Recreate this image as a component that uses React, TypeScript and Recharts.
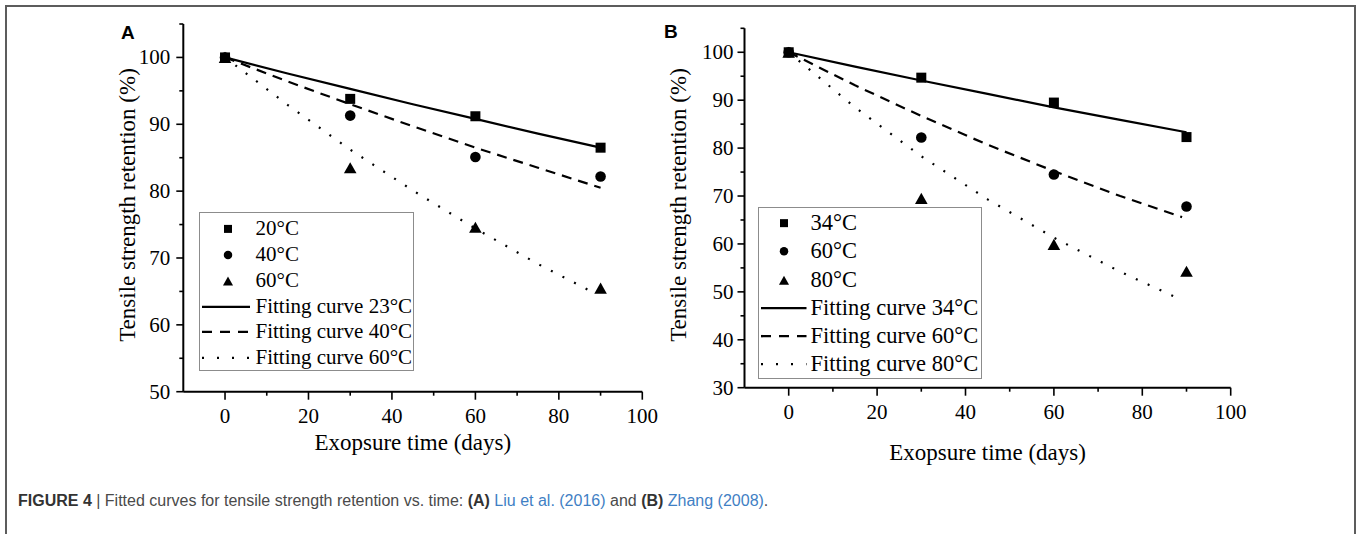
import React from 'react';
import { ComposedChart, Scatter, Line, XAxis, YAxis, Legend, Label } from 'recharts';

const SERIF = '"Liberation Serif", "Times New Roman", serif';
const SANS = '"Liberation Sans", Arial, sans-serif';

// sampling days of the measured points and of the fitted curves
const days = [0, 30, 60, 90];
const fitDays = [0, 15, 30, 45, 60, 75, 90];
const xTicks = [0, 10, 20, 30, 40, 50, 60, 70, 80, 90, 100];

// (A) Liu et al. (2016)
const liuNames = ['20°C', '40°C', '60°C'];
const liuFitNames = ['Fitting curve 23°C', 'Fitting curve 40°C', 'Fitting curve 60°C'];
const liu20 = [100, 93.8, 91.2, 86.5];
const liu40 = [100, 91.3, 85.1, 82.2];
const liu60 = [100, 83.5, 74.6, 65.5];
const liuFit23 = [100, 97.6, 95.3, 93.0, 90.8, 88.6, 86.5];
const liuFit40 = [100, 96.4, 93.0, 89.7, 86.5, 83.5, 80.5];
const liuFit60Days = [0, 15, 30, 45, 60, 75, 89];
const liuFit60 = [100, 92.9, 86.2, 80.1, 74.4, 69.1, 64.6];
const liuYTicks = [50, 55, 60, 65, 70, 75, 80, 85, 90, 95, 100, 105];

// (B) Zhang (2008)
const zhangNames = ['34°C', '60°C', '80°C'];
const zhangFitNames = ['Fitting curve 34°C', 'Fitting curve 60°C', 'Fitting curve 80°C'];
const zhang34 = [100, 94.7, 89.5, 82.3];
const zhang60 = [100, 82.2, 74.5, 67.8];
const zhang80 = [100, 69.5, 59.9, 54.3];
const zhangFit34 = [100, 97.0, 94.1, 91.3, 88.5, 85.9, 83.3];
const zhangFit60Days = [0, 15, 30, 45, 60, 75, 89];
const zhangFit60 = [100, 93.1, 86.7, 80.7, 75.2, 70.0, 65.6];
const zhangFit80Days = [0, 15, 30, 45, 60, 75, 88];
const zhangFit80 = [100, 88.5, 78.3, 69.3, 61.3, 54.2, 48.7];
const zhangYTicks = [30, 35, 40, 45, 50, 55, 60, 65, 70, 75, 80, 85, 90, 95, 100, 105];

const toPts = (xs: number[], ys: number[]) => xs.map((x, i) => ({ x, y: ys[i] }));

const markerKinds = ['square', 'circle', 'triangle'];
const fitDash = [undefined, '10 7', '2 11'];
const legendDash = [undefined, '10 8', '2 13'];

const serifText = { fontFamily: SERIF, fill: '#000' };

function Marker({ kind, cx, cy, k = 1 }: any) {
  if (kind === 'square') {
    const s = 5 * k;
    return <rect x={cx - s} y={cy - s} width={2 * s} height={2 * s} fill="#000" />;
  }
  if (kind === 'circle') return <circle cx={cx} cy={cy} r={5.3 * k} fill="#000" />;
  const w = 6.3 * k;
  const h = 5.6 * k;
  return <polygon points={`${cx},${cy - h} ${cx + w},${cy + h} ${cx - w},${cy + h}`} fill="#000" />;
}

function LegendBox({ names, fitNames, g }: any) {
  const rows = [
    ...names.map((n: string, i: number) => ({ label: n, marker: markerKinds[i] })),
    ...fitNames.map((n: string, i: number) => ({ label: n, dash: legendDash[i], line: true })),
  ];
  return (
    <div
      style={{
        position: 'relative',
        width: g.width,
        height: g.height,
        boxSizing: 'border-box',
        border: '1.5px solid #8c8c8c',
        background: '#fff',
      }}
    >
      {rows.map((r: any, i: number) => (
        <div
          key={r.label}
          style={{ position: 'absolute', left: 0, top: g.first + i * g.step - g.step / 2, height: g.step, width: '100%' }}
        >
          <svg width={g.textX} height={g.step} style={{ position: 'absolute', left: 0, top: 0 }}>
            {r.line ? (
              <line
                x1={g.lineX1}
                x2={g.lineX2}
                y1={g.step / 2}
                y2={g.step / 2}
                stroke="#000"
                strokeWidth={2.4}
                strokeDasharray={r.dash}
              />
            ) : (
              <Marker kind={r.marker} cx={g.markerX} cy={g.step / 2} k={0.8} />
            )}
          </svg>
          <span
            style={{
              position: 'absolute',
              left: g.textX,
              top: 0,
              lineHeight: `${g.step}px`,
              fontFamily: SERIF,
              fontSize: g.fontSize,
              color: '#000',
              whiteSpace: 'nowrap',
            }}
          >
            {r.label}
          </span>
        </div>
      ))}
    </div>
  );
}

function Panel(p: any) {
  const markerSets = p.markers.map((ys: number[]) => toPts(days, ys));
  const fitSets = p.fits.map((f: any) => toPts(f.xs, f.ys));

  const yTick = (t: any) => {
    const v = t.payload.value;
    const major = v % 10 === 0 && v <= 100;
    return (
      <g>
        <line x1={t.x - (major ? 7 : 4)} x2={t.x} y1={t.y} y2={t.y} stroke="#000" strokeWidth={1.6} />
        {major && (
          <text
            x={t.x - p.yLabelGap}
            y={t.y}
            textAnchor="end"
            dominantBaseline="central"
            style={{ ...serifText, fontSize: 21 }}
          >
            {v}
          </text>
        )}
      </g>
    );
  };

  const xTick = (t: any) => {
    const v = t.payload.value;
    const major = v % 20 === 0;
    return (
      <g>
        <line x1={t.x} x2={t.x} y1={t.y} y2={t.y + (major ? 8 : 4)} stroke="#000" strokeWidth={1.6} />
        {major && (
          <text
            x={t.x}
            y={t.y + 24.5}
            textAnchor="middle"
            dominantBaseline="central"
            style={{ ...serifText, fontSize: 21 }}
          >
            {v}
          </text>
        )}
      </g>
    );
  };

  return (
    <div style={{ position: 'absolute', left: p.left, top: 0 }}>
      <ComposedChart width={p.width} height={480} margin={p.margin}>
        <XAxis
          type="number"
          dataKey="x"
          domain={[-10, 100]}
          ticks={xTicks}
          interval={0}
          height={30}
          tickSize={0}
          tickMargin={0}
          tickLine={false}
          tick={xTick}
          axisLine={{ stroke: '#000', strokeWidth: 2 }}
        >
          <Label
            content={({ viewBox }: any) => (
              <text
                x={viewBox.x + viewBox.width / 2}
                y={p.xTitleY}
                textAnchor="middle"
                style={{ ...serifText, fontSize: 23 }}
              >
                Exopsure time (days)
              </text>
            )}
          />
        </XAxis>
        <YAxis
          type="number"
          dataKey="y"
          domain={p.yDomain}
          ticks={p.yTicks}
          interval={0}
          width={60}
          tickSize={0}
          tickMargin={0}
          tickLine={false}
          tick={yTick}
          axisLine={{ stroke: '#000', strokeWidth: 2 }}
        >
          <Label
            content={() => (
              <text
                x={p.yTitleX}
                y={p.yTitleY}
                transform={`rotate(-90 ${p.yTitleX} ${p.yTitleY})`}
                textAnchor="middle"
                style={{ ...serifText, fontSize: 23 }}
              >
                Tensile strength retention (%)
              </text>
            )}
          />
        </YAxis>
        {fitSets.map((d: any, i: number) => (
          <Line
            key={`fit${i}`}
            data={d}
            dataKey="y"
            type="linear"
            stroke="#000"
            strokeWidth={2.2}
            strokeDasharray={fitDash[i]}
            dot={false}
            activeDot={false}
            isAnimationActive={false}
          />
        ))}
        {markerSets.map((d: any, i: number) => (
          <Scatter
            key={`pts${i}`}
            data={d}
            isAnimationActive={false}
            shape={(s: any) => <Marker kind={markerKinds[i]} cx={s.cx} cy={s.cy} />}
          />
        ))}
        <Legend
          layout="vertical"
          align="center"
          verticalAlign="middle"
          wrapperStyle={{ left: p.legend.left, top: p.legend.top, width: p.legend.width, height: p.legend.height }}
          content={() => <LegendBox names={p.names} fitNames={p.fitNames} g={p.legend} />}
        />
      </ComposedChart>
    </div>
  );
}

export default function App() {
  return (
    <div
      style={{ position: 'fixed', left: 0, top: 0, width: 1357, height: 534, background: '#fff', overflow: 'hidden' }}
    >
      <div
        style={{
          position: 'absolute',
          left: 5,
          top: 5,
          width: 1351,
          height: 560,
          boxSizing: 'border-box',
          border: '2px solid #5c5c5c',
          borderBottom: 'none',
        }}
      />
      <Panel
        left={0}
        width={680}
        margin={{ top: 24, right: 37.7, bottom: 58.3, left: 123.3 }}
        yDomain={[50, 105]}
        yTicks={liuYTicks}
        yLabelGap={13}
        markers={[liu20, liu40, liu60]}
        fits={[
          { xs: fitDays, ys: liuFit23 },
          { xs: fitDays, ys: liuFit40 },
          { xs: liuFit60Days, ys: liuFit60 },
        ]}
        names={liuNames}
        fitNames={liuFitNames}
        xTitleY={450}
        yTitleX={135}
        yTitleY={205}
        legend={{
          left: 198.5,
          top: 212,
          width: 215,
          height: 159,
          first: 16,
          step: 25.8,
          markerX: 28,
          textX: 56,
          lineX1: 2,
          lineX2: 50,
          fontSize: 21,
        }}
      />
      <Panel
        left={620}
        width={737}
        margin={{ top: 28.3, right: 126.3, bottom: 62.3, left: 64.5 }}
        yDomain={[30, 105]}
        yTicks={zhangYTicks}
        yLabelGap={11}
        markers={[zhang34, zhang60, zhang80]}
        fits={[
          { xs: fitDays, ys: zhangFit34 },
          { xs: zhangFit60Days, ys: zhangFit60 },
          { xs: zhangFit80Days, ys: zhangFit80 },
        ]}
        names={zhangNames}
        fitNames={zhangFitNames}
        xTitleY={460}
        yTitleX={66}
        yTitleY={205}
        legend={{
          left: 137.5,
          top: 206.6,
          width: 224,
          height: 172,
          first: 15.5,
          step: 28.3,
          markerX: 25,
          textX: 52,
          lineX1: 2,
          lineX2: 47.5,
          fontSize: 22.5,
        }}
      />
      <div style={{ position: 'absolute', left: 121, top: 22, fontFamily: SANS, fontWeight: 700, fontSize: 19 }}>A</div>
      <div style={{ position: 'absolute', left: 664, top: 21, fontFamily: SANS, fontWeight: 700, fontSize: 19 }}>B</div>
      <div
        style={{
          position: 'absolute',
          left: 18,
          top: 492,
          fontFamily: SANS,
          fontSize: 16,
          color: '#4a4a4a',
          whiteSpace: 'nowrap',
        }}
      >
        <b style={{ color: '#333' }}>FIGURE 4</b> | Fitted curves for tensile strength retention vs. time:{' '}
        <b style={{ color: '#333' }}>(A)</b> <span style={{ color: '#3f80c4' }}>Liu et al. (2016)</span> and{' '}
        <b style={{ color: '#333' }}>(B)</b> <span style={{ color: '#3f80c4' }}>Zhang (2008)</span>.
      </div>
    </div>
  );
}
